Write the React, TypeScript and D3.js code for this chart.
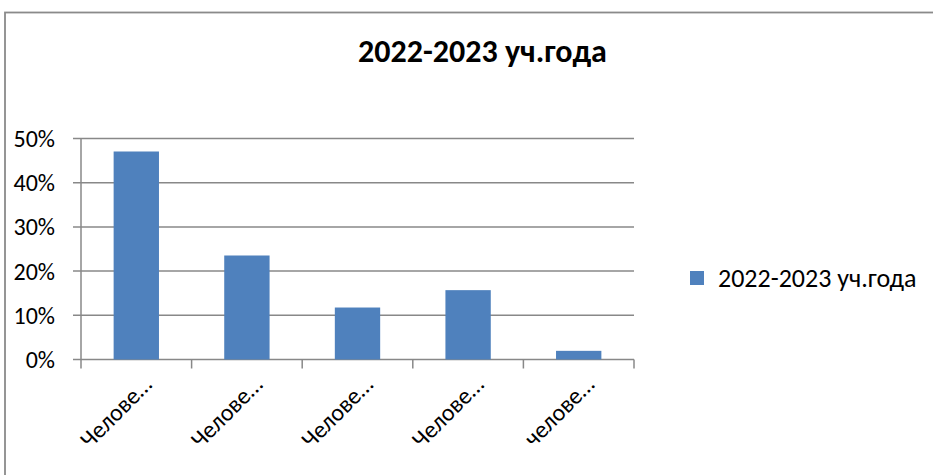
import * as d3 from "d3";

const title = "2022-2023 уч.года";
const seriesName = "2022-2023 уч.года";
const categories = ["Челове…", "Челове…", "Челове…", "Челове…", "челове…"];
const values = [0.4706, 0.2353, 0.1176, 0.1569, 0.0196];
const yTicks = [0, 0.1, 0.2, 0.3, 0.4, 0.5];

const W = 933;
const H = 475;
const FONT = "Carlito, Calibri, Lato, 'Open Sans', sans-serif";
const BAR = "#4F81BD";
const GRID = "#888888";

export default function App() {
  const x = d3.scaleBand<number>()
    .domain(categories.map((_, i) => i))
    .range([81, 634])
    .paddingInner(0.59)
    .paddingOuter(0.295);
  const step = x.step();
  const y = d3.scaleLinear().domain([0, 0.5]).range([359.5, 138.5]);
  const fmt = d3.format(".0%");
  const xLeft = 81;
  const xRight = 634;

  return (
    <svg
      width={W}
      height={H}
      style={{ position: "absolute", left: 0, top: 0, display: "block", background: "#fff" }}
      fontFamily={FONT}
    >
      {/* chart border, cut by the picture on right and bottom */}
      <rect x={5} y={12.5} width={W + 20} height={H + 20} fill="#fff" stroke="#8a8a8a" strokeWidth={1.8} />

      <text x={482.5} y={62} textAnchor="middle" fontWeight="bold" fontSize={32} fill="#000">
        {title}
      </text>

      {/* gridlines */}
      {yTicks.map(t => (
        <line key={"g" + t} x1={xLeft - 8} x2={xRight} y1={y(t)} y2={y(t)} stroke={GRID} strokeWidth={1.5} />
      ))}
      {/* y axis */}
      <line x1={xLeft} x2={xLeft} y1={y(0.5)} y2={y(0)} stroke={GRID} strokeWidth={1.5} />
      {yTicks.map(t => (
        <text key={"t" + t} x={55} y={y(t)} dy="0.35em" textAnchor="end" fontSize={24} fill="#000">
          {fmt(t)}
        </text>
      ))}

      {/* bars */}
      {values.map((v, i) => (
        <rect key={i} x={x(i)} y={y(v)} width={x.bandwidth()} height={y(0) - y(v)} fill={BAR} />
      ))}

      {/* x axis ticks */}
      {d3.range(categories.length + 1).map(i => (
        <line key={"xt" + i} x1={xLeft + i * step} x2={xLeft + i * step} y1={y(0)} y2={y(0) + 9} stroke={GRID} strokeWidth={1.5} />
      ))}
      {categories.map((c, i) => (
        <text
          key={"c" + i}
          transform={`translate(${xLeft + i * step + step / 2 + 17},386) rotate(-45)`}
          textAnchor="end"
          fontSize={24}
          fill="#000"
        >
          {c}
        </text>
      ))}

      {/* legend */}
      <rect x={690} y={271} width={14} height={14} fill={BAR} />
      <text x={718} y={278} dy="0.35em" fontSize={26} fill="#000">
        {seriesName}
      </text>
    </svg>
  );
}
